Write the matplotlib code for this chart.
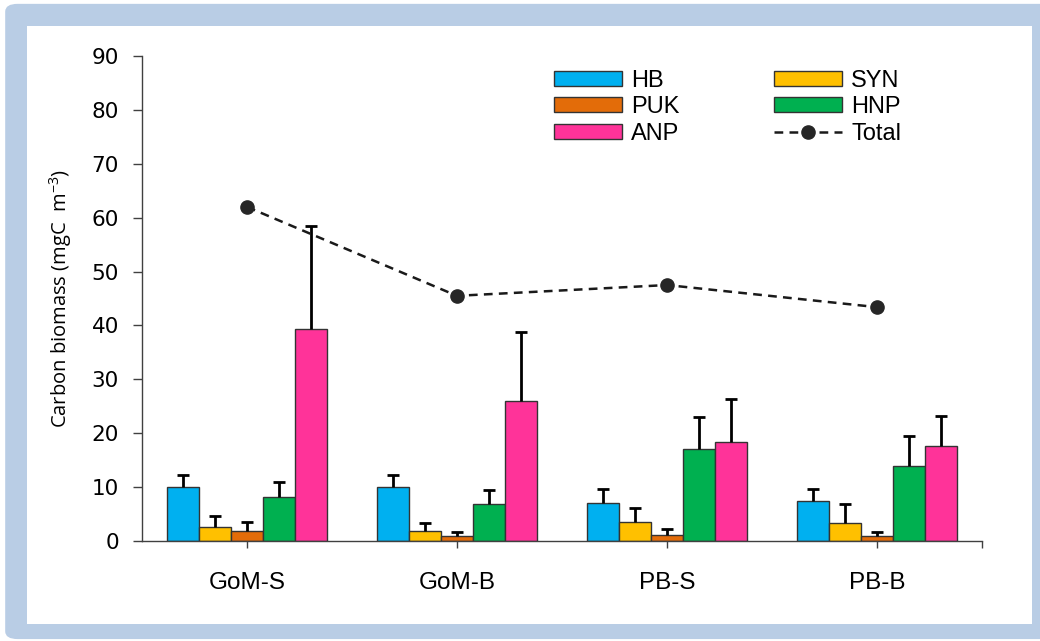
import matplotlib.pyplot as plt
import numpy as np
from matplotlib.patches import FancyBboxPatch, Rectangle

sites = ["GoM-S", "GoM-B", "PB-S", "PB-B"]
groups = ["HB", "SYN", "PUK", "HNP", "ANP"]
colors = ["#00B0F0", "#FFC000", "#E36C09", "#00B050", "#FF3399"]

# mean carbon biomass per group (rows) and site (columns)
means = [
    [10.0, 10.0, 7.1, 7.4],    # HB
    [2.6, 1.9, 3.5, 3.3],      # SYN
    [1.9, 0.9, 1.2, 1.0],      # PUK
    [8.1, 6.9, 17.1, 14.0],    # HNP
    [39.3, 26.0, 18.4, 17.6],  # ANP
]
# standard deviations (upper bars only)
errs = [
    [2.3, 2.3, 2.6, 2.3],
    [2.1, 1.4, 2.6, 3.5],
    [1.6, 0.7, 1.1, 0.6],
    [2.8, 2.5, 5.9, 5.5],
    [19.2, 12.8, 7.9, 5.6],
]
total = [62.0, 45.5, 47.5, 43.4]

plt.rcParams['font.family'] = ['Liberation Sans', 'DejaVu Sans']

fig = plt.figure(figsize=(10.4, 6.41), dpi=100)

# light blue frame with white panel
frame = FancyBboxPatch((0.005, 0.003), 1.02, 0.991, boxstyle="round,pad=0,rounding_size=0.012",
                       transform=fig.transFigure, facecolor="#B9CDE5", edgecolor="none", zorder=-2)
panel = Rectangle((0.026, 0.0265), 0.9663, 0.933, transform=fig.transFigure,
                  facecolor="white", edgecolor="none", zorder=-1)
fig.patches.extend([frame, panel])

ax = fig.add_axes([0.1365, 0.156, 0.8077, 0.7566])
ax.patch.set_alpha(0)

x = np.arange(len(sites))
w = 0.152
for i, g in enumerate(groups):
    pos = x + (i - 2) * w
    ax.bar(pos, means[i], w, color=colors[i], edgecolor="#333333", linewidth=1.0,
           label=g, zorder=2)
    eb = ax.errorbar(pos, means[i], yerr=[np.zeros(len(sites)), errs[i]], fmt="none",
                     ecolor="black", elinewidth=2, capsize=4, capthick=2, zorder=3)
    # hide the caps sitting on the bar tops
    for cl in eb[1]:
        if np.allclose(cl.get_ydata(), means[i]):
            cl.set_visible(False)

ax.plot(x, total, linestyle=(0, (3.5, 2.5)), color="#1a1a1a", linewidth=1.8,
        marker="o", markersize=9.5, markerfacecolor="#262626", markeredgecolor="#262626",
        label="Total", zorder=4)

ax.set_xlim(-0.5, 3.5)
ax.set_ylim(0, 90)
ax.set_yticks(np.arange(0, 91, 10))
ax.set_xticks(list(x) + [3.5])
ax.set_xticklabels(sites + [""])

for s in ["top", "right"]:
    ax.spines[s].set_visible(False)
for s in ["left", "bottom"]:
    ax.spines[s].set_color("#404040")
    ax.spines[s].set_linewidth(1.0)

ax.tick_params(axis="y", direction="out", length=6.5, width=1, color="#404040",
               labelsize=15.5, pad=10)
for t in ax.get_yticklabels():
    t.set_family(["DejaVu Sans"])
ax.tick_params(axis="x", direction="out", length=5, width=1, color="#404040",
               labelsize=17.5, pad=17)

ax.set_ylabel("Carbon biomass (mgC  m$^{\\mathregular{-3}}$)", fontsize=14.5,
              family=["Open Sans", "DejaVu Sans"], labelpad=13)

handles, labels = ax.get_legend_handles_labels()
order = ["HB", "PUK", "ANP", "SYN", "HNP", "Total"]
hmap = dict(zip(labels, handles))
ax.legend([hmap[k] for k in order], order, ncol=2, loc="upper left",
          bbox_to_anchor=(0.49, 0.972), frameon=False, fontsize=17,
          handlelength=2.9, handleheight=0.6, labelspacing=0.19,
          columnspacing=4.0, handletextpad=0.38, borderpad=0, borderaxespad=0)

fig.savefig("out.png", dpi=100)
